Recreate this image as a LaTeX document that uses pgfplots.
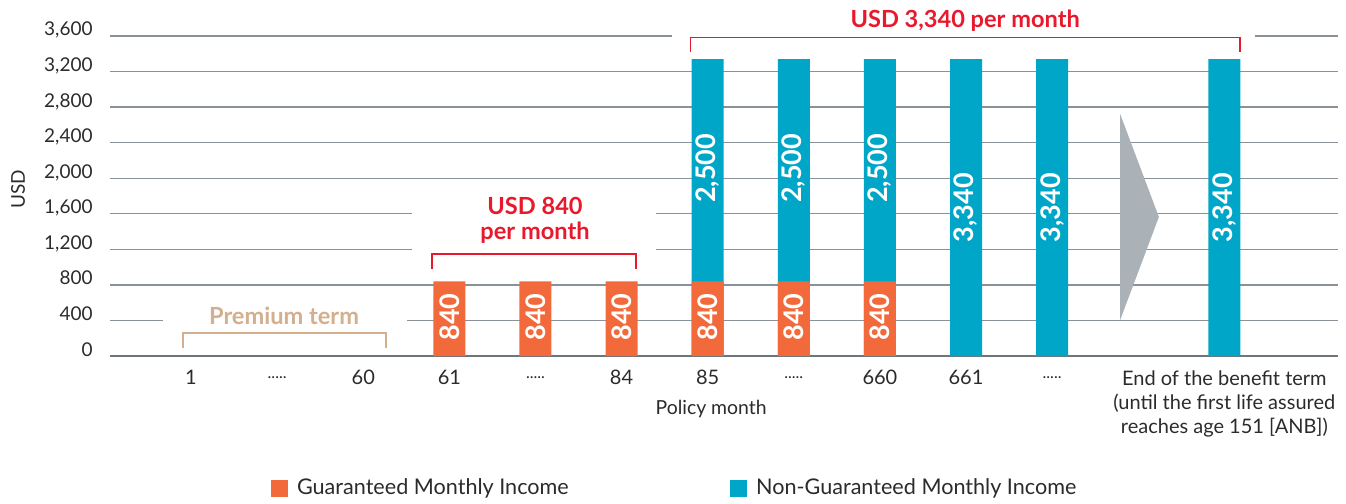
\documentclass[border=0pt]{standalone}
\usepackage{fontspec}
\setmainfont{Lato}
\usepackage{pgfplots}
\usepackage{pgfplotstable}
\pgfplotsset{compat=1.18}
\definecolor{gorange}{HTML}{F26A3B}
\definecolor{ngblue}{HTML}{00A6C8}
\definecolor{gridgray}{HTML}{8A9198}
\definecolor{axisgray}{HTML}{6E767C}
\definecolor{annred}{HTML}{E8192C}
\definecolor{tancol}{HTML}{D3AF8D}
\definecolor{arrowgray}{HTML}{AAB2B8}
\definecolor{txt}{HTML}{2B2B2B}

\pgfplotstableread{
x y
3 840
4 840
5 840
6 840
7 840
8 840
}\guaranteed
\pgfplotstableread{
x y
6 3340
7 3340
8 3340
9 3340
10 3340
12 3340
}\total
\pgfplotstableread{
x y label
3 440 840
4 440 840
5 440 840
6 440 840
7 440 840
8 440 840
6 2110 2,500
7 2110 2,500
8 2110 2,500
9 1670 3,340
10 1670 3,340
12 1670 3,340
}\labels

\newcommand{\dotsl}{\vphantom{0}\raisebox{3.2pt}{\footnotesize .....}}

\begin{document}
\begin{tikzpicture}
\begin{axis}[
  name=ax,
  scale only axis, width=614pt, height=160pt,
  xmin=-0.941, xmax=13.32, ymin=0, ymax=3600,
  clip=false,
  axis x line*=bottom, axis y line*=left,
  y axis line style={draw=none},
  x axis line style={draw=axisgray, line width=1pt},
  ytick={0,400,...,3600},
  scaled y ticks=false,
  ymajorgrids,
  major grid style={gridgray, line width=0.65pt},
  major tick length=0pt,
  xtick={0,1,2,3,4,5,6,7,8,9,10,12},
  xticklabels={1,\dotsl,60,61,\dotsl,84,85,\dotsl,660,661,\dotsl,{End of the benefit term\\(until the first life assured\\reaches age 151 [ANB])}},
  xticklabel style={anchor=north, inner sep=0pt, yshift=-7pt, align=center, font=\fontsize{10}{12}\selectfont, text=txt},
  yticklabel style={anchor=base east, inner sep=0pt, xshift=-8.5pt, font=\fontsize{9.5}{12}\selectfont, text=txt},
  /pgf/number format/.cd, 1000 sep={,}, assume math mode=true,
  /pgfplots/.cd,
  legend style={at={(0.4605,-0.4125)}, anchor=center, draw=none, fill=none,
    legend columns=2, font=\fontsize{10.8}{13}\selectfont, text=txt,
    /tikz/every even column/.append style={column sep=78.5pt}},
  legend image code/.code={\fill[#1] (0pt,-4pt) rectangle (8pt,4pt); \path[draw=none,fill=none] (0pt,0pt) (11pt,0pt);},
]
\addlegendimage{gorange}
\addlegendentry{Guaranteed Monthly Income}
\addlegendimage{ngblue}
\addlegendentry{Non-Guaranteed Monthly Income}

% white gaps in the grid behind annotations
\fill[white] (axis cs:-0.325,300) rectangle (axis cs:2.509,500);
\fill[white] (axis cs:2.567,1100) rectangle (axis cs:5.40,1700);
\fill[white] (axis cs:5.587,3500) rectangle (axis cs:12.36,3700);

\addplot[ybar, bar width=16pt, bar shift=0pt, fill=ngblue, draw=none, forget plot] table[x=x,y=y] {\total};
\addplot[ybar, bar width=16pt, bar shift=0pt, fill=gorange, draw=none, forget plot] table[x=x,y=y] {\guaranteed};

\addplot[draw=none, mark=none, forget plot, nodes near coords, point meta=explicit symbolic,
  every node near coord/.append style={anchor=center, rotate=90, text=white, inner sep=0pt,
    font=\fontsize{13.5}{15}\bfseries\selectfont}]
  table[x=x,y=y,meta=label] {\labels};

% arrow
\fill[arrowgray] (axis cs:10.79,2722) -- (axis cs:11.24,1564) -- (axis cs:10.79,405) -- cycle;

% brackets
\draw[tancol, line width=0.8pt] (axis cs:-0.093,90) -- (axis cs:-0.093,259) -- (axis cs:2.265,259) -- (axis cs:2.265,90);
\node[text=tancol, font=\fontsize{11.8}{13}\bfseries\selectfont] at (axis cs:1.08,450) {Premium term};

\draw[annred, line width=0.8pt] (axis cs:2.80,979) -- (axis cs:2.80,1147) -- (axis cs:5.17,1147) -- (axis cs:5.17,979);
\node[text=annred, align=center, font=\fontsize{11.8}{12.5}\bfseries\selectfont] at (axis cs:3.995,1524) {USD 840\\per month};

\draw[annred, line width=0.8pt] (axis cs:5.80,3416) -- (axis cs:5.80,3585) -- (axis cs:12.18,3585) -- (axis cs:12.18,3416);
\node[text=annred, font=\fontsize{11.8}{13}\bfseries\selectfont] at (axis cs:8.99,3772) {USD 3,340 per month};

\node[text=txt, font=\fontsize{9.7}{12}\selectfont] at (axis cs:6.04,0) [yshift=-26.5pt] {Policy month};
\end{axis}
\node[rotate=90, text=txt, font=\fontsize{9.5}{12}\selectfont] at ([xshift=-46pt,yshift=3.5pt]ax.west) {USD};
\pgfresetboundingbox
\path ([xshift=-55pt,yshift=-73.5pt]ax.south west) rectangle ([xshift=4pt,yshift=18pt]ax.north east);
\end{tikzpicture}
\end{document}
